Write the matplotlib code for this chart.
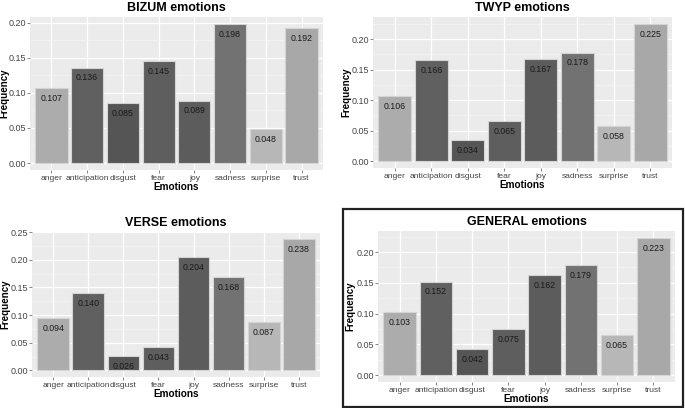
import numpy as np
import matplotlib.pyplot as plt
from matplotlib.patches import Rectangle

plt.rcParams['font.family'] = ['Liberation Sans', 'DejaVu Sans']

emotions = ['anger', 'anticipation', 'disgust', 'fear', 'joy', 'sadness', 'surprise', 'trust']

bizum = [0.107, 0.136, 0.085, 0.145, 0.089, 0.198, 0.048, 0.192]
twyp = [0.106, 0.166, 0.034, 0.065, 0.167, 0.178, 0.058, 0.225]
verse = [0.094, 0.140, 0.026, 0.043, 0.204, 0.168, 0.087, 0.238]
general = [0.103, 0.152, 0.042, 0.075, 0.162, 0.179, 0.065, 0.223]

bar_colors = ['#acacac', '#606060', '#555555', '#5e5e5e', '#5c5c5c', '#727272', '#b7b7b7', '#a8a8a8']

W, H = 685, 408
fig = plt.figure(figsize=(W / 100, H / 100), dpi=100)

# panel rectangles in pixels: left, top, right, bottom, and right edge of the y label
panels = [
    ('BIZUM emotions', bizum, (30, 17, 323, 170), 9, [0, 0.05, 0.10, 0.15, 0.20]),
    ('TWYP emotions', twyp, (373, 17, 672, 168), 351, [0, 0.05, 0.10, 0.15, 0.20]),
    ('VERSE emotions', verse, (32, 232, 320, 377), 10, [0, 0.05, 0.10, 0.15, 0.20, 0.25]),
    ('GENERAL emotions', general, (378, 231, 675, 382), 355, [0, 0.05, 0.10, 0.15, 0.20]),
]

for title, vals, (l, t, r, b), ylab_x, ticks in panels:
    ax = fig.add_axes([l / W, 1 - b / H, (r - l) / W, (b - t) / H])
    ax.set_facecolor('#ebebeb')
    x = np.arange(len(emotions))
    top = max(vals)
    ax.set_ylim(-0.05 * top, top * 1.05)
    ax.set_xlim(-0.6, len(emotions) - 0.4)
    ax.set_yticks(ticks)
    ax.set_yticklabels(['%.2f' % v for v in ticks])
    ax.set_yticks([v + 0.025 for v in ticks if v + 0.025 < top * 1.05], minor=True)
    ax.set_xticks(x)
    ax.set_xticklabels(emotions)
    ax.grid(True, which='major', color='white', linewidth=0.9)
    ax.grid(True, which='minor', axis='y', color='#f5f5f5', linewidth=0.5)
    ax.set_axisbelow(True)
    for s in ax.spines.values():
        s.set_visible(False)
    ax.tick_params(axis='both', which='major', colors='#555555', length=2, width=0.5, pad=1.5)
    ax.tick_params(axis='x', labelsize=6.1)
    ax.tick_params(axis='y', labelsize=6.5, pad=1)
    ax.tick_params(axis='both', which='minor', length=0)
    for lab in ax.get_xticklabels() + ax.get_yticklabels():
        lab.set_color('#444444')
    ax.bar(x, vals, width=0.9, color=bar_colors, edgecolor='#d4d4d4', linewidth=0.8)
    for xi, v in zip(x, vals):
        ax.annotate('%.3f' % v, (xi, v), xytext=(0, -7.5), textcoords='offset points',
                    ha='center', va='center', fontsize=6.3, color='#1a1a1a')
    ax.set_title(title, fontsize=9, fontweight='bold', pad=4)
    ax.set_xlabel('Emotions', fontsize=7.2, fontweight='bold', labelpad=0)
    ax.set_ylabel('Frequency', fontsize=7, fontweight='bold')
    ax.yaxis.set_label_coords((ylab_x - l) / (r - l), 0.5)

# frame around the GENERAL panel
fig.patches.append(Rectangle((343 / W, 1 - 407 / H), (683 - 343) / W, (407 - 209) / H,
                             transform=fig.transFigure, fill=False, edgecolor='#222222', linewidth=1.6))

fig.savefig('out.png', dpi=100)
